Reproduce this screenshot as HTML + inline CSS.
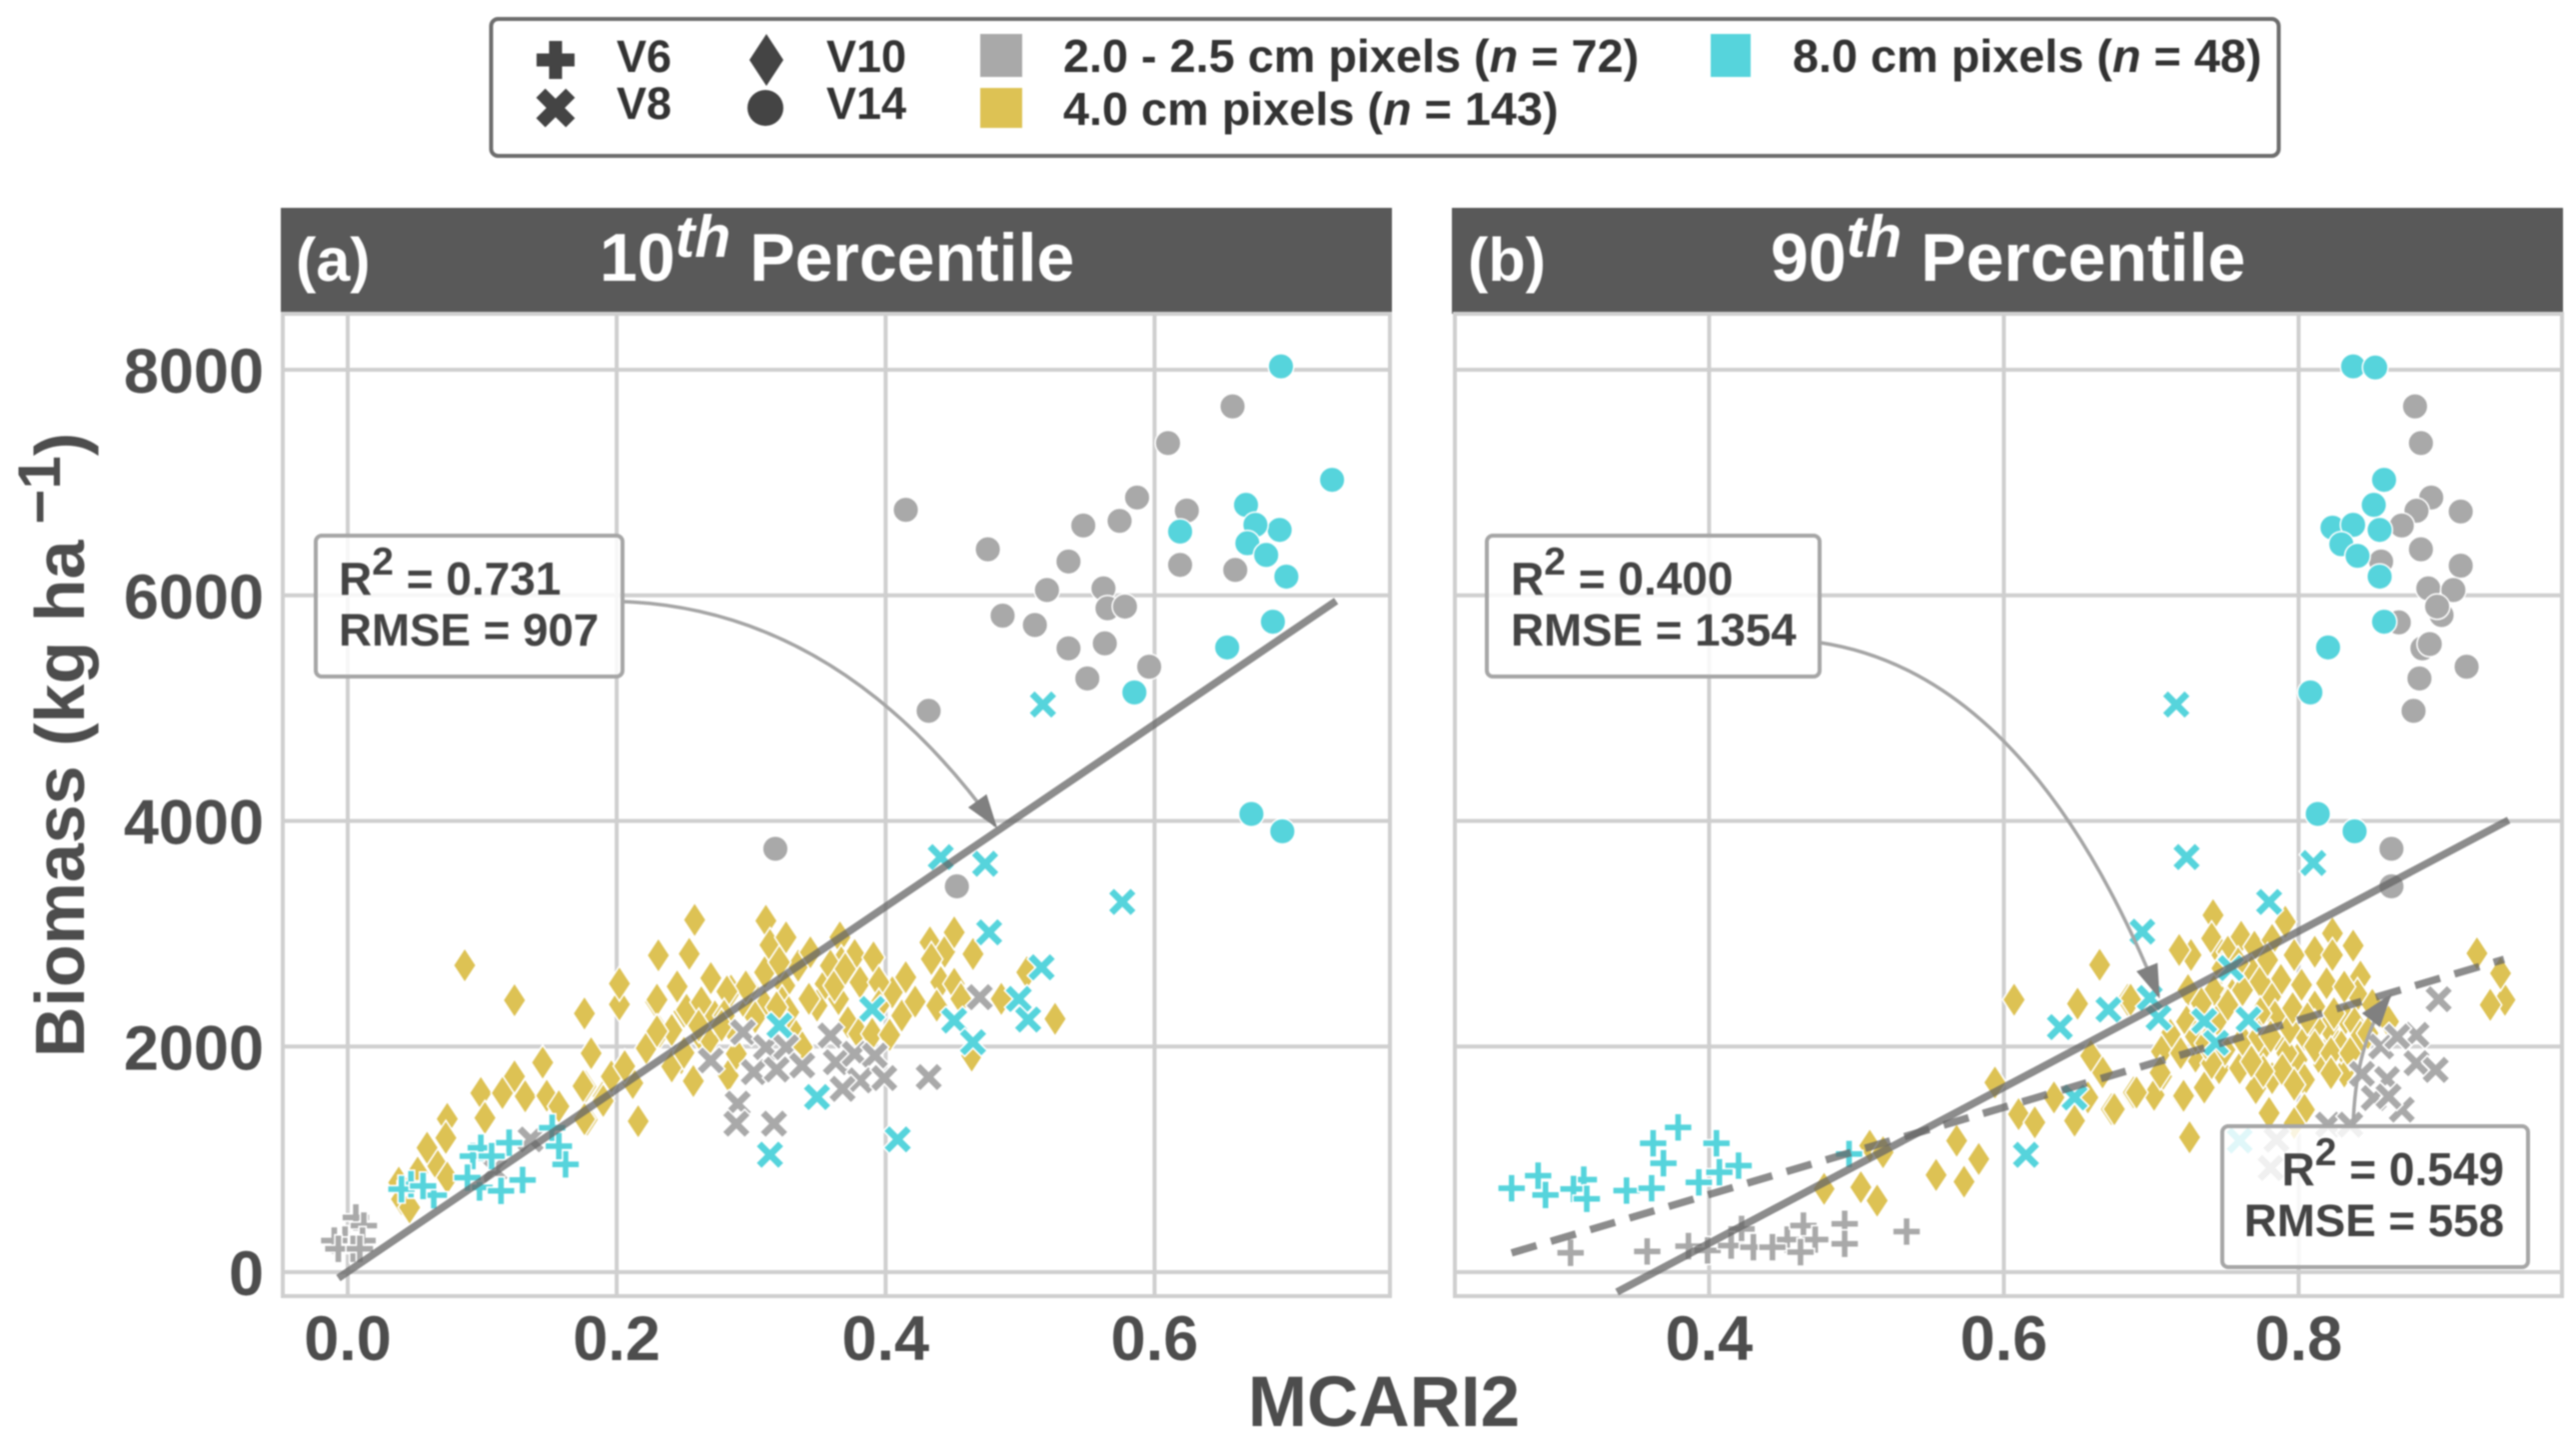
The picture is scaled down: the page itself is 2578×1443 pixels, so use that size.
<!DOCTYPE html>
<html lang="en">
<head>
<meta charset="utf-8">
<title>Biomass vs MCARI2</title>
<style>
html,body{margin:0;padding:0;background:#fff;width:2578px;height:1443px;overflow:hidden}
svg{display:block;filter:blur(0.85px)}
text{font-family:"Liberation Sans",Arial,sans-serif;font-weight:700}
</style>
</head>
<body>
<svg id="chart" xmlns="http://www.w3.org/2000/svg" width="2578" height="1443" viewBox="0 0 2578 1443">
<defs>
<clipPath id="clip-a"><rect x="283" y="314" width="1108" height="983"/></clipPath>
<clipPath id="clip-b"><rect x="1456" y="314" width="1108" height="983"/></clipPath>
</defs>
<rect width="2578" height="1443" fill="#fff"/>
<g>
<rect x="491.5" y="19" width="1789" height="137" rx="7" fill="#fff" stroke="#6e6e6e" stroke-width="4"/>
<g id="legend-markers"></g>
<g fill="#333" font-size="45">
<text x="617" y="72">V6</text>
<text x="617" y="119">V8</text>
<text x="827" y="72">V10</text>
<text x="827" y="119">V14</text>
</g>
<rect x="981" y="34" width="42" height="43" fill="#a9a9a9"/>
<rect x="981" y="88" width="42" height="40" fill="#ddc254"/>
<rect x="1712" y="34" width="40" height="43" fill="#56d4dc"/>
<g fill="#333" font-size="46.8">
<text x="1064" y="72">2.0 - 2.5 cm pixels (<tspan font-style="italic">n</tspan> = 72)</text>
<text x="1064" y="125">4.0 cm pixels (<tspan font-style="italic">n</tspan> = 143)</text>
<text x="1794" y="72">8.0 cm pixels (<tspan font-style="italic">n</tspan> = 48)</text>
</g>
</g>
<rect x="281" y="208" width="1112" height="106" fill="#595959"/>
<rect x="1453" y="208" width="1112" height="106" fill="#595959"/>
<text x="296" y="281" font-size="61" fill="#fff">(a)</text>
<text x="1469" y="281" font-size="61" fill="#fff">(b)</text>
<text x="600" y="281" font-size="68" fill="#fff">10<tspan font-size="59" font-style="italic" dy="-24">th</tspan><tspan dy="24"> Percentile</tspan></text>
<text x="1772" y="281" font-size="68" fill="#fff">90<tspan font-size="59" font-style="italic" dy="-24">th</tspan><tspan dy="24"> Percentile</tspan></text>
<g id="panel-a-layer"></g>
<g id="panel-b-layer"></g>
<text transform="translate(84,1058) rotate(-90)" font-size="70" fill="#4d4d4d">Biomass (kg ha<tspan font-size="60" dx="16" dy="-24">−1</tspan><tspan dy="24">)</tspan></text>
<text x="1385" y="1427" font-size="71" fill="#4d4d4d" text-anchor="middle">MCARI2</text>
<g id="annotations"></g>
</svg>
<script>
/* ---------- tick labels ---------- */
const yTicks = [0, 2000, 4000, 6000, 8000];
const xTicksA = [0.0, 0.2, 0.4, 0.6];
const xTicksB = [0.4, 0.6, 0.8];

/* ---------- panel (a) series: [MCARI2, biomass] ---------- */
const aYellowV10 = [[.087,2720],[.124,2411],[.176,2293],[.202,2373],[.202,2558],[.181,1940],[.145,1858],[.124,1735],[.099,1588],[.115,1588],[.132,1558],[.148,1564],[.102,1367],[.074,1358],[.073,1190],[.059,1102],[.067,940],[.074,838],[.052,882],[.038,794],[.04,647],[.046,573],[.177,1646],[.178,1352],[.19,1558],[.205,1808],[.222,1985],[.232,2131],[.229,2396],[.231,2808],[.254,2822],[.258,3122],[.244,2528],[.25,2308],[.269,2602],[.216,1338],[.212,1676],[.248,1896],[.257,1690],[.241,1823],[.241,2146],[.196,1735],[.157,1470],[.273,2205],[.263,2087],[.311,3115],[.314,2900],[.326,2968],[.27,2605],[.285,2496],[.298,2525],[.272,2274],[.325,2540],[.335,2717],[.344,2835],[.366,2968],[.377,2811],[.391,2790],[.355,2555],[.381,2570],[.365,2420],[.349,2363],[.372,2215],[.38,2112],[.39,2112],[.403,2103],[.412,2274],[.405,2480],[.415,2614],[.422,2398],[.433,2923],[.444,2841],[.451,3012],[.465,2820],[.441,2570],[.451,2555],[.456,2422],[.438,2363],[.486,2422],[.505,2658],[.526,2245],[.283,1743],[.289,1935],[.338,1994],[.33,2156],[.323,2392],[.31,2658],[.298,2333],[.286,2156],[.269,2068],[.367,2746],[.395,2570],[.31,2363],[.434,2776],[.464,1920],[.27,2606],[.245,2532],[.23,2415],[.252,2326],[.296,2532],[.282,2488],[.273,2268],[.23,2135],[.25,1944],[.206,1826],[.175,1650],[.257,1694],[.19,1518],[.176,1356],[.343,2422],[.359,2717],[.321,2747],[.28,2274],[.263,2392],[.328,2304],[.303,2260],[.362,2540],[.37,2687],[.395,2363],[.261,2186],[.278,2186],[.319,2348]];
const aGrayV8 = [[.294,2127],[.27,1876],[.311,1994],[.326,1994],[.302,1773],[.319,1796],[.338,1832],[.359,2097],[.363,1861],[.377,1935],[.392,1920],[.381,1700],[.399,1720],[.368,1625],[.432,1729],[.29,1493],[.289,1316],[.317,1316],[.47,2437],[.136,1176],[.109,911]];
const aCyanV8 = [[.321,2186],[.39,2333],[.477,3012],[.516,2702],[.499,2422],[.506,2239],[.451,2230],[.465,2038],[.349,1552],[.314,1041],[.409,1177],[.441,3679],[.474,3620],[.576,3282],[.517,5032]];
const aGrayV6 = [[-.002,288],[.006,485],[.012,412],[-.01,280],[.011,280],[.004,206],[-.007,206],[.009,206]];
const aCyanV6 = [[.064,682],[.13,817],[.162,955],[.12,1147],[.152,1279],[.098,750],[.114,720],[.093,1029],[.089,838],[.099,1102],[.047,779],[.04,735],[.056,764],[.157,1117],[.107,1029]];
const aGrayV14 = [[.415,6758],[.476,6408],[.547,6619],[.574,6660],[.587,6867],[.624,6752],[.658,7675],[.61,7350],[.536,6300],[.619,6270],[.66,6225],[.52,6047],[.562,6062],[.565,5885],[.578,5900],[.487,5820],[.511,5737],[.536,5530],[.563,5574],[.55,5263],[.596,5367],[.432,4976],[.318,3753],[.453,3420]];
const aCyanV14 = [[.694,8030],[.732,7024],[.668,6802],[.693,6580],[.675,6625],[.669,6462],[.683,6358],[.619,6565],[.698,6166],[.688,5766],[.654,5538],[.585,5139],[.672,4062],[.695,3908]];
const aFitLine = [[-.007,-53],[.735,5950]];

/* ---------- panel (b) series ---------- */
const bYellowV10 = [[.742,3165],[.791,3106],[.823,3003],[.741,2958],[.761,2973],[.837,2894],[.727,2811],[.719,2855],[.748,2811],[.752,2840],[.77,2885],[.782,2944],[.797,2811],[.811,2840],[.823,2811],[.768,2664],[.788,2590],[.802,2546],[.819,2560],[.842,2620],[.84,2457],[.725,2500],[.743,2500],[.755,2457],[.762,2500],[.781,2442],[.774,2575],[.734,2383],[.724,2221],[.713,2103],[.707,1956],[.707,1735],[.687,1587],[.702,1572],[.721,1557],[.736,1631],[.73,1911],[.745,2236],[.746,1808],[.76,1808],[.773,1941],[.784,2265],[.771,1631],[.782,1720],[.79,2000],[.804,2103],[.799,1882],[.817,1838],[.804,1705],[.831,1778],[.824,2059],[.832,2250],[.811,2354],[.82,2177],[.838,2206],[.85,2369],[.842,2088],[.792,1941],[.78,1410],[.804,1440],[.726,1174],[.797,1320],[.921,2826],[.94,2413],[.937,2649],[.93,2369],[.684,2413],[.861,2221],[.478,738],[.503,752],[.514,634],[.509,1121],[.518,1062],[.554,861],[.573,802],[.568,1165],[.583,1003],[.594,1681],[.61,1401],[.621,1327],[.634,1549],[.648,1342],[.673,1445],[.657,1549],[.667,1770],[.659,1917],[.688,1593],[.65,2380],[.607,2415],[.665,2724],[.686,2415],[.675,1445],[.69,1592],[.722,1563],[.736,1636],[.706,1768],[.726,1195],[.752,2369],[.774,2295],[.762,2059],[.773,2088],[.75,1970],[.741,1852],[.781,2088],[.794,2162],[.811,2177],[.829,2000],[.811,2000],[.822,1941],[.789,1793],[.776,1780],[.768,1867],[.835,1941],[.847,2118],[.73,2088],[.72,1941],[.737,2030],[.796,2340],[.806,2250],[.824,2295],[.831,2530],[.779,2767],[.759,2737],[.748,2693],[.822,1764],[.797,1661]];
const bGrayV8 = [[.895,2419],[.88,2103],[.856,2000],[.88,1852],[.893,1793],[.843,1758],[.86,1711],[.87,1440],[.82,1307],[.835,1307],[.785,1174],[.781,923],[.851,1543],[.861,1558],[.867,2088]];
const bCyanV8 = [[.717,5032],[.724,3680],[.81,3627],[.78,3282],[.694,3018],[.754,2695],[.699,2430],[.671,2327],[.638,2172],[.705,2254],[.736,2226],[.766,2240],[.744,2032],[.648,1548],[.615,1040],[.76,1166]];
const bGrayV6 = [[.306,171],[.358,183],[.386,230],[.399,192],[.422,383],[.415,236],[.43,221],[.453,289],[.464,413],[.472,289],[.492,428],[.492,251],[.534,360],[.443,221],[.462,177]];
const bCyanV6 = [[.266,743],[.284,855],[.289,684],[.315,820],[.308,737],[.317,649],[.344,723],[.361,743],[.362,1142],[.379,1283],[.405,1142],[.369,965],[.42,944],[.407,885],[.393,796],[.495,1047]];
const bGrayV14 = [[.879,7675],[.883,7350],[.89,6867],[.91,6743],[.88,6750],[.87,6619],[.883,6408],[.856,6300],[.91,6263],[.888,6062],[.905,6047],[.897,5825],[.894,5900],[.868,5760],[.884,5530],[.889,5568],[.914,5367],[.882,5263],[.878,4976],[.863,3753],[.863,3420]];
const bCyanV14 = [[.837,8030],[.852,8020],[.858,7024],[.851,6802],[.823,6600],[.855,6580],[.837,6625],[.829,6453],[.84,6350],[.855,6166],[.858,5766],[.82,5538],[.808,5139],[.813,4062],[.838,3908]];
const bFitLine = [[.3375,-177],[.9425,4007]];
const bFitDashed = [[.266,170],[.9394,2773]];

/* ---------- axis functions ---------- */
const SVG_NS = 'http://www.w3.org/2000/svg';
const yScale = v => 1273 - v * 0.112875;
const xScaleA = v => 348 + v * 1345.8;
const xScaleB = v => 1710.4 + (v - 0.4) * 1475;

const GRAY = '#a9a9a9', YELLOW = '#ddc254', CYAN = '#56d4dc';

function make(tag, attrs, parent) {
  const el = document.createElementNS(SVG_NS, tag);
  for (const k in attrs) el.setAttribute(k, attrs[k]);
  parent.appendChild(el);
  return el;
}
function polygonPath(points, cx, cy, s) {
  return 'M' + points.map(p => (cx + p[0] * s).toFixed(1) + ' ' + (cy + p[1] * s).toFixed(1)).join('L') + 'Z';
}
function plusShape(a, t) {
  return [[-t,-a],[t,-a],[t,-t],[a,-t],[a,t],[t,t],[t,a],[-t,a],[-t,t],[-a,t],[-a,-t],[-t,-t]];
}
function xShape(a, t) {
  return plusShape(a, t).map(p => [(p[0] - p[1]) * 0.7071, (p[0] + p[1]) * 0.7071]);
}
const diamondShape = [[0,-17.5],[11.5,0],[0,17.5],[-11.5,0]];

function drawMarker(kind, cx, cy, color, parent, scale, strokeColor) {
  const s = scale || 1;
  const stroke = strokeColor || '#fff';
  if (kind === 'circle') {
    return make('circle', {cx: cx, cy: cy, r: 12.8 * s, fill: color, stroke: stroke, 'stroke-width': 1.5}, parent);
  }
  let shape = diamondShape;
  if (kind === 'plus') shape = plusShape(14, 3.6);
  if (kind === 'x') shape = xShape(16, 4.2);
  return make('path', {d: polygonPath(shape, cx, cy, s), fill: color, stroke: stroke, 'stroke-width': 1.6}, parent);
}

function drawSeries(parent, points, kind, color, xScale, name) {
  for (const p of points) {
    const m = drawMarker(kind, xScale(p[0]), yScale(p[1]), color, parent);
    
    
  }
}

function drawGrid(parent, xTicks, xScale, left, right, suffix) {
  const top = 314, bottom = 1297;
  for (const t of yTicks) {
    const line = make('line', {x1: left, x2: right, y1: yScale(t), y2: yScale(t), stroke: '#cfcfcf', 'stroke-width': 4}, parent);
    
    
  }
  for (const t of xTicks) {
    const line = make('line', {x1: xScale(t), x2: xScale(t), y1: top, y2: bottom, stroke: '#cfcfcf', 'stroke-width': 4}, parent);
    
    
    const label = make('text', {x: xScale(t), y: 1361, 'text-anchor': 'middle', 'font-size': 63, fill: '#4d4d4d'}, parent);
    label.textContent = t.toFixed(1);
    
    
  }
  const border = make('rect', {x: left, y: top, width: right - left, height: bottom - top, fill: 'none', stroke: '#cfcfcf', 'stroke-width': 4}, parent);
  
  
}

function drawFit(parent, pts, xScale, dashed, clip) {
  const attrs = {x1: xScale(pts[0][0]), y1: yScale(pts[0][1]), x2: xScale(pts[1][0]), y2: yScale(pts[1][1]),
    stroke: '#666', 'stroke-opacity': 0.75, 'stroke-width': 7.5, 'clip-path': 'url(#' + clip + ')'};
  if (dashed) attrs['stroke-dasharray'] = '26 15';
  const line = make('line', attrs, parent);
  
  
}

function drawPanel(layerId, xTicks, xScale, left, right, suffix, clip, s) {
  const layer = document.getElementById(layerId);
  drawGrid(layer, xTicks, xScale, left, right, suffix);
  const marks = make('g', {'clip-path': 'url(#' + clip + ')'}, layer);
  drawSeries(marks, s.yellowV10, 'diamond', YELLOW, xScale, 'point-v10-4cm');
  drawSeries(marks, s.grayV8, 'x', GRAY, xScale, 'point-v8-2cm');
  drawSeries(marks, s.cyanV8, 'x', CYAN, xScale, 'point-v8-8cm');
  drawSeries(marks, s.grayV6, 'plus', GRAY, xScale, 'point-v6-2cm');
  drawSeries(marks, s.cyanV6, 'plus', CYAN, xScale, 'point-v6-8cm');
  drawSeries(marks, s.grayV14, 'circle', GRAY, xScale, 'point-v14-2cm');
  drawSeries(marks, s.cyanV14, 'circle', CYAN, xScale, 'point-v14-8cm');
}

drawPanel('panel-a-layer', xTicksA, xScaleA, 283, 1391, 'a', 'clip-a', {
  yellowV10: aYellowV10, grayV8: aGrayV8, cyanV8: aCyanV8, grayV6: aGrayV6, cyanV6: aCyanV6, grayV14: aGrayV14, cyanV14: aCyanV14
});
drawPanel('panel-b-layer', xTicksB, xScaleB, 1456, 2564, 'b', 'clip-b', {
  yellowV10: bYellowV10, grayV8: bGrayV8, cyanV8: bCyanV8, grayV6: bGrayV6, cyanV6: bCyanV6, grayV14: bGrayV14, cyanV14: bCyanV14
});

const layerA = document.getElementById('panel-a-layer');
const layerB = document.getElementById('panel-b-layer');
drawFit(layerA, aFitLine, xScaleA, false, 'clip-a');
drawFit(layerB, bFitLine, xScaleB, false, 'clip-b');
drawFit(layerB, bFitDashed, xScaleB, true, 'clip-b');

/* y tick labels */
for (const t of yTicks) {
  const label = make('text', {x: 264, y: yScale(t) + 23, 'text-anchor': 'end', 'font-size': 63, fill: '#4d4d4d'}, document.getElementById('chart'));
  label.textContent = String(t);
  
  
}

/* legend markers */
const legendGroup = document.getElementById('legend-markers');
const legendPlus = make('path', {d: polygonPath(plusShape(19, 6.5), 556, 60, 1), fill: '#444'}, legendGroup);


const legendX = make('path', {d: polygonPath(xShape(21, 6.5), 556, 108, 1), fill: '#444'}, legendGroup);


const legendDiamond = make('path', {d: polygonPath([[0,-26],[17,0],[0,26],[-17,0]], 767, 60, 1), fill: '#444'}, legendGroup);


const legendCircle = make('circle', {cx: 766, cy: 108, r: 18, fill: '#444'}, legendGroup);



/* annotations */
const annotations = document.getElementById('annotations');
function drawArrow(sx, sy, cx, cy, ex, ey, name) {
  const path = make('path', {d: `M${sx} ${sy}Q${cx} ${cy} ${ex} ${ey}`, fill: 'none', stroke: '#a6a6a6', 'stroke-width': 3.5}, annotations);
  
  
  const ang = Math.atan2(ey - cy, ex - cx);
  const ca = Math.cos(ang), sa = Math.sin(ang);
  const L = 30, W = 10;
  const pts = [[ex, ey], [ex - L * ca - W * sa, ey - L * sa + W * ca], [ex - L * ca + W * sa, ey - L * sa - W * ca]];
  const head = make('polygon', {points: pts.map(p => p.join(',')).join(' '), fill: '#808080', stroke: '#808080', 'stroke-width': 2}, annotations);
  
  
}
function drawBox(x, y, w, h, tx, anchor, l1, l2, name) {
  const box = make('rect', {x: x, y: y, width: w, height: h, rx: 6, fill: '#fff', 'fill-opacity': 0.82, stroke: '#a6a6a6', 'stroke-width': 4}, annotations);
  
  
  const t1 = make('text', {x: tx, y: y + 59, 'font-size': 46, fill: '#444', 'text-anchor': anchor}, annotations);
  
  
  t1.appendChild(document.createTextNode('R'));
  const sup = make('tspan', {'font-size': 39, dy: -20}, t1);
  sup.textContent = '2';
  const rest = make('tspan', {dy: 20}, t1);
  rest.textContent = ' = ' + l1;
  const t2 = make('text', {x: tx, y: y + 110, 'font-size': 45.7, fill: '#444', 'text-anchor': anchor}, annotations);
  
  
  t2.textContent = 'RMSE = ' + l2;
}
drawArrow(623, 602, 840, 610, xScaleA(0.4817), yScale(4000) + 5, 'annotation-arrow-a');
drawArrow(1821, 643, 2030, 674, xScaleB(0.7050), yScale(2450), 'annotation-arrow-b-solid');
drawArrow(2355, 1125, 2358, 1040, xScaleB(0.8620), yScale(2450), 'annotation-arrow-b-dashed');
drawBox(316, 536, 307, 141, 339, 'start', '0.731', '907', 'annotation-a');
drawBox(1488, 536, 333, 141, 1512, 'start', '0.400', '1354', 'annotation-b-solid');
drawBox(2224, 1127, 306, 141, 2506, 'end', '0.549', '558', 'annotation-b-dashed');
</script>
</body>
</html>
